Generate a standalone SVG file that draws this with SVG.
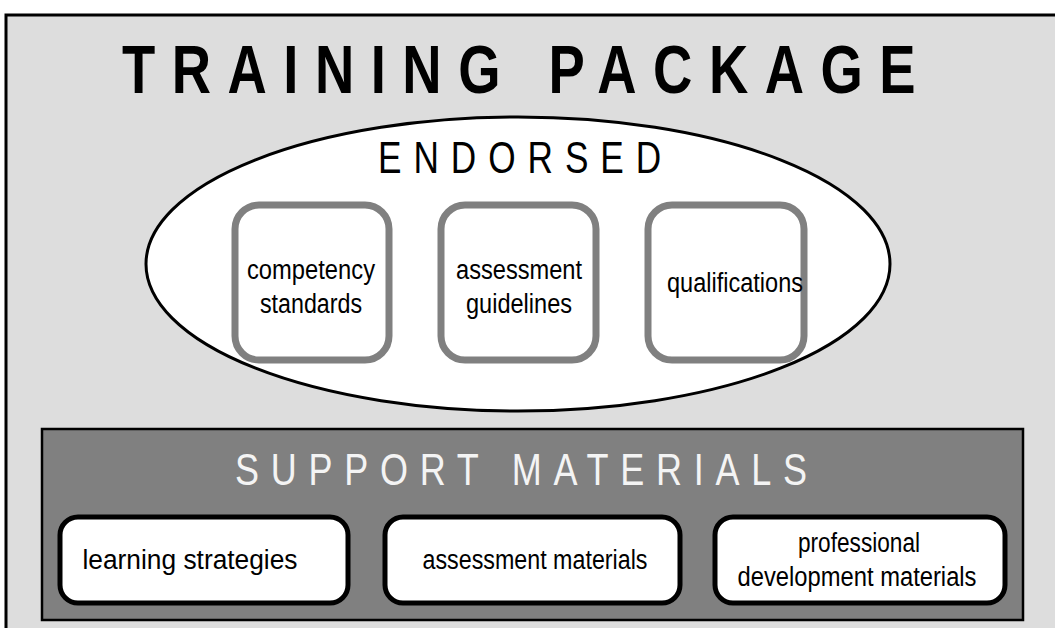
<svg xmlns="http://www.w3.org/2000/svg" width="1055" height="628" viewBox="0 0 1055 628">
  <style>
    .t { font-family: "Liberation Sans", Arial, sans-serif; }
    .title { font-size: 68px; font-weight: bold; fill: #000; }
    .endorsed { font-size: 44px; fill: #000; }
    .support { font-size: 45px; fill: #f4f4f4; }
    .lbl { font-size: 27px; fill: #000; text-anchor: middle; }
    .gbox { fill: #fff; stroke: #808080; stroke-width: 7; }
    .wbox { fill: #fff; stroke: #000; stroke-width: 5; }
  </style>

  <!-- page background -->
  <rect x="0" y="0" width="1055" height="628" fill="#fff"/>

  <!-- training package frame; headings use condensed, letter-spaced type -->
  <g id="training-package">
    <rect x="6" y="15" width="1060" height="630" fill="#dddddd" stroke="#000" stroke-width="3"/>
    <text class="t title" transform="translate(122,93) scale(0.8,1)" x="0" y="0" textLength="992" lengthAdjust="spacing">TRAINING PACKAGE</text>
  </g>

  <!-- endorsed components -->
  <g id="endorsed">
    <ellipse cx="518" cy="264" rx="372" ry="147" fill="#fff" stroke="#000" stroke-width="3"/>
    <text class="t endorsed" transform="translate(378,173) scale(0.8,1)" x="0" y="0" textLength="354" lengthAdjust="spacing">ENDORSED</text>
  </g>

  <g id="competency-standards">
    <rect class="gbox" x="235" y="205" width="154" height="155" rx="24" ry="24"/>
    <text class="t lbl" x="311" y="279" textLength="128" lengthAdjust="spacingAndGlyphs">competency</text>
    <text class="t lbl" x="311" y="313" textLength="102" lengthAdjust="spacingAndGlyphs">standards</text>
  </g>

  <g id="assessment-guidelines">
    <rect class="gbox" x="441" y="205" width="155" height="155" rx="24" ry="24"/>
    <text class="t lbl" x="519" y="279" textLength="126" lengthAdjust="spacingAndGlyphs">assessment</text>
    <text class="t lbl" x="519" y="313" textLength="106" lengthAdjust="spacingAndGlyphs">guidelines</text>
  </g>

  <g id="qualifications">
    <rect class="gbox" x="648" y="205" width="156" height="155" rx="24" ry="24"/>
    <text class="t lbl" x="735" y="292" textLength="136" lengthAdjust="spacingAndGlyphs">qualifications</text>
  </g>

  <!-- support materials panel -->
  <g id="support-materials">
    <rect x="42" y="429" width="981" height="191" fill="#808080" stroke="#000" stroke-width="2.5"/>
    <text class="t support" transform="translate(235,485) scale(0.8,1)" x="0" y="0" textLength="715" lengthAdjust="spacing">SUPPORT MATERIALS</text>
  </g>

  <g id="learning-strategies">
    <rect class="wbox" x="60" y="517" width="288" height="86" rx="18" ry="18"/>
    <text class="t lbl" x="190" y="569" textLength="215" lengthAdjust="spacingAndGlyphs">learning strategies</text>
  </g>

  <g id="assessment-materials">
    <rect class="wbox" x="385" y="517" width="295" height="86" rx="18" ry="18"/>
    <text class="t lbl" x="535" y="569" textLength="225" lengthAdjust="spacingAndGlyphs">assessment materials</text>
  </g>

  <g id="professional-development-materials">
    <rect class="wbox" x="715" y="517" width="290" height="86" rx="18" ry="18"/>
    <text class="t lbl" x="859" y="552" textLength="122" lengthAdjust="spacingAndGlyphs">professional</text>
    <text class="t lbl" x="857" y="586" textLength="239" lengthAdjust="spacingAndGlyphs">development materials</text>
  </g>

  <!-- no connectors in this layout -->
  <g id="connectors"/>
</svg>
